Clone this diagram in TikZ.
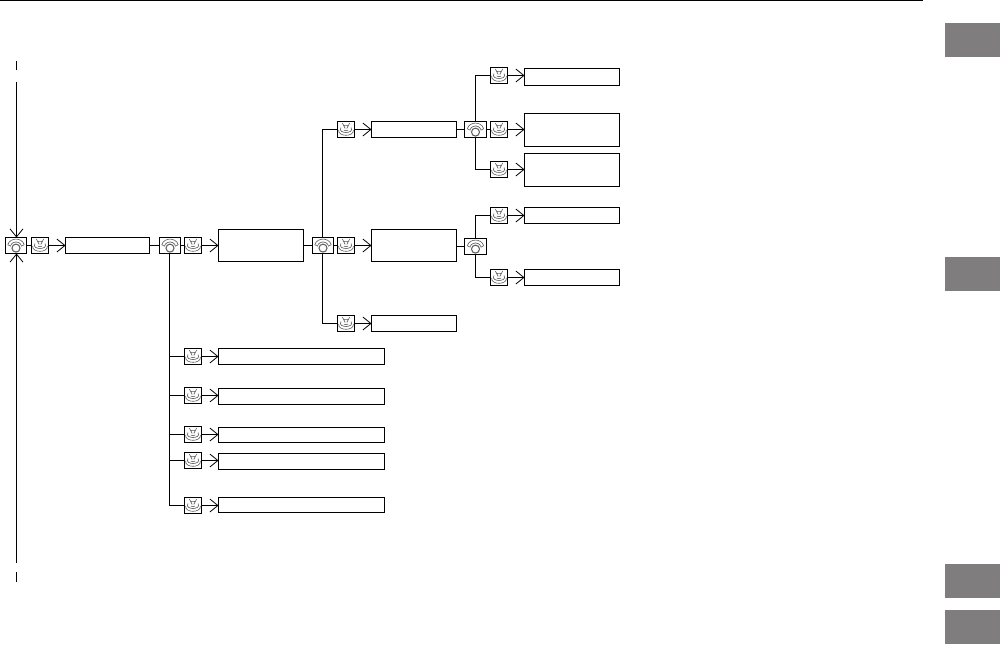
\documentclass[tikz,border=0pt]{standalone}
\usetikzlibrary{arrows.meta,backgrounds}
\definecolor{tabgrey}{HTML}{7F7D7D}
\definecolor{icongrey}{HTML}{5A5A5A}
\newcommand{\phoneicon}{%
  \begin{scope}[shift={(path picture bounding box.center)},icongrey,line width=0.45pt]
    \draw[line width=0.8pt,black!62] (0,2.6) circle (4);
    \draw (-8.2,-0.8) .. controls (-7,-5) and (-3,-6.4) .. (0,-6.4) .. controls (3,-6.4) and (7,-5) .. (8.2,-0.8);
    \draw (-8.2,-0.8) -- (-5.6,0.6) .. controls (-4.4,-2.6) and (-2,-3.6) .. (0,-3.6) .. controls (2,-3.6) and (4.4,-2.6) .. (5.6,0.6) -- (8.2,-0.8);
  \end{scope}}
\newcommand{\buttonicon}{%
  \begin{scope}[shift={(path picture bounding box.center)},icongrey,line width=0.45pt]
    \draw (-3.6,-6.5) -- (-0.8,-1) (3.6,-6.5) -- (0.8,-1) (-2.4,-4.2) -- (2.4,-4.2);
    \draw (-5,-2) .. controls (-7.4,1.5) and (-3,3) .. (0,3) .. controls (3,3) and (7.4,1.5) .. (5,-2);
    \draw (-7.4,0.5) .. controls (-8,4.4) and (-3,5.8) .. (0,5.8) .. controls (3,5.8) and (8,4.4) .. (7.4,0.5);
    \draw (-2.2,0.6) .. controls (-1,1.4) and (1,1.4) .. (2.2,0.6);
  \end{scope}}
\tikzset{
  x=0.75pt,y=-0.75pt,
  ln/.style={line width=0.75pt,black},
  barb/.style={ln,-{Straight Barb[length=6pt,width=9.75pt,line width=0.6pt]}},
  bx/.style 2 args={draw,ln,fill=white,inner sep=0pt,outer sep=0pt,minimum width=#1*0.75pt,minimum height=#2*0.75pt},
  phone/.style={bx={21}{16},path picture={\phoneicon}},
  phonewide/.style={bx={22}{16},path picture={\phoneicon}},
  button/.style={bx={17}{16},path picture={\buttonicon}},
  tabbox/.style={fill=tabgrey,draw=none,inner sep=0pt,outer sep=0pt,minimum width=55*0.75pt,minimum height=34*0.75pt},
}
\begin{document}
\begin{tikzpicture}
\useasboundingbox (0,0) rectangle (1000,644);
\coordinate (hl) at (0,0.5);
\coordinate (hr) at (923,0.5);
\draw[line width=0.75pt] (hl) -- (hr);
\node[tabbox] (tab1) at (972.5,40) {};
\node[tabbox] (tab2) at (972.5,273.5) {};
\node[tabbox] (tab3) at (972.5,580.5) {};
\node[tabbox] (tab4) at (972.5,627) {};
\node[phone] (p0) at (16,245.5) {};
\node[button] (b0) at (40,245.5) {};
\node[bx={84}{16}] (r0) at (107.5,245.5) {};
\node[phone] (p1) at (170,245.5) {};
\node[button] (b1) at (193,245.5) {};
\node[bx={85}{32}] (r1) at (261,245.5) {};
\node[phone] (p2) at (323,245.5) {};
\node[button] (b2) at (346,245.5) {};
\node[bx={85}{32}] (r2) at (414,245.5) {};
\node[phonewide] (p3) at (475.5,246.5) {};
\node[button] (b3) at (346,129.5) {};
\node[bx={85}{16}] (r3) at (414,129.5) {};
\node[phonewide] (p4) at (475.5,129.5) {};
\node[button] (b4) at (499,129.5) {};
\node[bx={95}{33}] (r4) at (572,130) {};
\node[button] (b5) at (499,75.5) {};
\node[bx={95}{17}] (r5) at (572,77) {};
\node[button] (b6) at (499,169.5) {};
\node[bx={95}{33}] (r6) at (572,170) {};
\node[button] (b7) at (499,215.5) {};
\node[bx={95}{16}] (r7) at (572,215.5) {};
\node[button] (b8) at (499,277.5) {};
\node[bx={95}{16}] (r8) at (572,277.5) {};
\node[button] (b9) at (346,323.5) {};
\node[bx={85}{16}] (r9) at (414,323.5) {};
\node[button] (b10) at (193,356.5) {};
\node[bx={166}{16}] (r10) at (301.5,356.5) {};
\node[button] (b11) at (193,395.5) {};
\node[bx={166}{16}] (r11) at (301.5,396.5) {};
\node[button] (b12) at (193,434.5) {};
\node[bx={166}{15}] (r12) at (301.5,435) {};
\node[button] (b13) at (193,460.5) {};
\node[bx={166}{16}] (r13) at (301.5,461.5) {};
\node[button] (b14) at (193,505.5) {};
\node[bx={166}{15}] (r14) at (301.5,505) {};
\coordinate (t1) at (16.5,61);
\coordinate (t2) at (16.5,70);
\coordinate (t3) at (16.5,82);
\coordinate (t4) at (16.5,562.7);
\coordinate (t5) at (16.5,572);
\coordinate (t6) at (16.5,582);
\coordinate (tr1) at (169.5,245.5);
\coordinate (tr2) at (322.5,245.5);
\draw[ln] (t1) -- (t2);
\draw[ln] (t5) -- (t6);
\draw[barb] (t3) -- (t3 |- p0.north);
\draw[barb] (t4) -- (t4 |- p0.south);
\begin{scope}[on background layer]
\draw[ln] (p0) -- (b0);
\draw[ln] (r0) -- (p1);
\draw[ln] (p1) -- (b1);
\draw[ln] (r1.east |- p2) -- (p2);
\draw[ln] (p2) -- (b2);
\draw[ln] (r2.east |- p3) -- (p3);
\draw[ln] (r3.east) -- (p4);
\draw[ln] (p4) -- (b4);
\draw[ln] (b5.west) -| (p4.center) |- (b6.west);
\draw[ln] (b7.west) -| (p3.center) |- (b8.west);
\draw[ln] (b3.west) -| (tr2) |- (b9.west);
\draw[ln] (tr1) |- (b14.west);
\foreach \bt in {b10,b11,b12,b13}{
  \draw[ln] (tr1 |- \bt) -- (\bt.west);
}
\end{scope}
\draw[barb] (b0) -- (r0);
\draw[barb] (b1) -- (r1.west |- b1);
\draw[barb] (b2) -- (r2.west |- b2);
\draw[barb] (b4) -- (r4.west |- b4);
\foreach \bt/\rt in {b3/r3,b5/r5,b6/r6,b7/r7,b8/r8,b9/r9,b10/r10,b11/r11,b12/r12,b13/r13,b14/r14}{
  \draw[barb] (\bt.east) -- (\rt.west |- \bt);
}
\end{tikzpicture}
\end{document}
